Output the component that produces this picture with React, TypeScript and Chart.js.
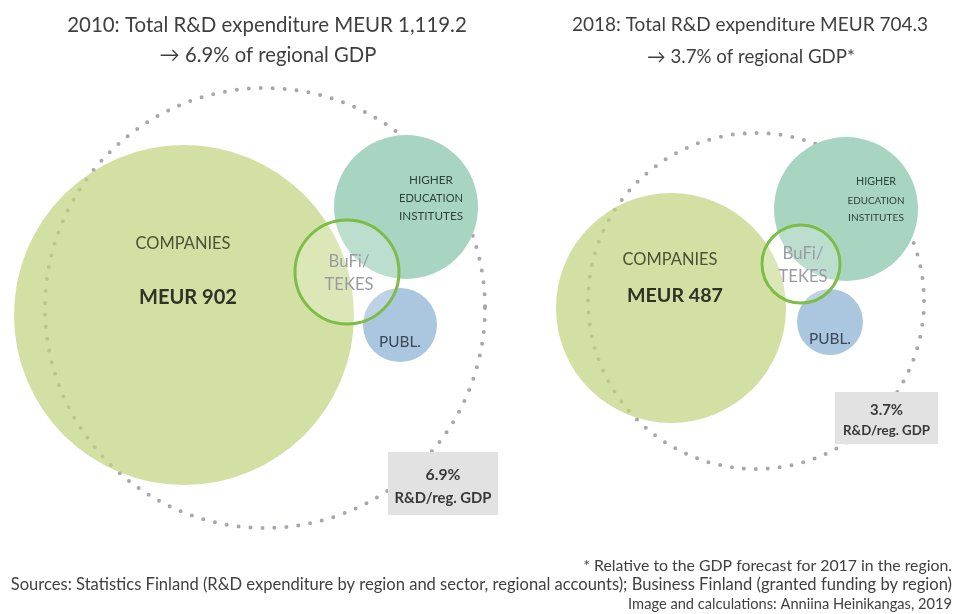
import React, { useEffect, useRef } from 'react';
import { Chart, registerables } from 'chart.js';

Chart.register(...registerables);

const W = 955;
const H = 614;
const FONT = "Lato, 'Open Sans', 'DejaVu Sans', sans-serif";

// ---- data ----
const years = ['2010', '2018'];
const totalRD = ['1,119.2', '704.3']; // MEUR
const gdpShare = ['6.9%', '3.7%'];
const companiesRD = ['902', '487']; // MEUR
const sectorNames = ['COMPANIES', 'HIGHER EDUCATION INSTITUTES', 'PUBL.', 'BuFi/TEKES', 'Total'];

// bubble centres and radii (hidden linear axes, one unit = one pixel)
const totalX = [265, 756];
const totalY = [308, 301];
const totalR = [220, 168];
const companiesX = [184, 671];
const companiesY = [315, 308];
const companiesR = [170, 115];
const higherEdX = [406, 846];
const higherEdY = [207, 209];
const higherEdR = [72, 72];
const publX = [400, 830];
const publY = [325, 322];
const publR = [37, 33];
const bufiX = [347, 801];
const bufiY = [272, 264];
const bufiR = [52, 39];

const pts = (xs: number[], ys: number[], rs: number[]) =>
  xs.map((x, i) => ({ x, y: ys[i], r: rs[i] }));

function drawFit(
  ctx: CanvasRenderingContext2D,
  text: string,
  x: number,
  y: number,
  width: number,
  weight: string,
  color: string,
  align: CanvasTextAlign = 'center'
) {
  ctx.font = `${weight} 20px ${FONT}`;
  const m = ctx.measureText(text).width;
  const size = (20 * width) / m;
  ctx.font = `${weight} ${size.toFixed(2)}px ${FONT}`;
  ctx.fillStyle = color;
  ctx.textAlign = align;
  ctx.textBaseline = 'middle';
  ctx.fillText(text, x, y);
}

const dottedPlugin = {
  id: 'dottedRing',
  beforeDatasetDraw(chart: any, args: any) {
    const ds = chart.data.datasets[args.index];
    if (ds.dotted) {
      const ctx = chart.ctx;
      ctx.save();
      ctx.setLineDash([0, 12]);
      ctx.lineCap = 'round';
    }
  },
  afterDatasetDraw(chart: any, args: any) {
    const ds = chart.data.datasets[args.index];
    if (ds.dotted) chart.ctx.restore();
  },
};

const textPlugin = {
  id: 'texts',
  afterDatasetsDraw(chart: any) {
    const ctx: CanvasRenderingContext2D = chart.ctx;
    const sx = chart.scales.x;
    const sy = chart.scales.y;
    const px = (v: number) => sx.getPixelForValue(v);
    const py = (v: number) => sy.getPixelForValue(v);
    ctx.save();

    // titles
    drawFit(ctx, `${years[0]}: Total R&D expenditure MEUR ${totalRD[0]}`, 267, 25, 400, '400', '#3f3f3f');
    drawFit(ctx, `\u2192 ${gdpShare[0]} of regional GDP`, 268, 55, 217, '400', '#3f3f3f');
    drawFit(ctx, `${years[1]}: Total R&D expenditure MEUR ${totalRD[1]}`, 750, 25, 356, '400', '#3f3f3f');
    drawFit(ctx, `\u2192 ${gdpShare[1]} of regional GDP*`, 751, 57, 208, '400', '#3f3f3f');

    const compLabelW = [95, 95];
    const meurW = [98, 96];
    const heiW = [[44, 64, 64], [40, 57, 56]];
    for (let i = 0; i < 2; i++) {
      // companies
      const cx = px(companiesX[i]);
      const cy = py(companiesY[i]);
      const cr = companiesR[i];
      drawFit(ctx, sectorNames[0], cx - 1, cy - 0.42 * cr, compLabelW[i], '400', '#4a5336');
      drawFit(ctx, `MEUR ${companiesRD[i]}`, cx + 4, cy - 0.105 * cr, meurW[i], '700', '#2e3228');

      // higher education
      const hx = px(higherEdX[i]) + (i === 0 ? 25 : 30);
      const hy = py(higherEdY[i]);
      const heiLines = ['HIGHER', 'EDUCATION', 'INSTITUTES'];
      const heiDy = [-27, -8.5, 9];
      heiLines.forEach((t, k) => drawFit(ctx, t, hx, hy + heiDy[k], heiW[i][k], '400', '#2f4237'));

      // public
      drawFit(ctx, sectorNames[2], px(publX[i]), py(publY[i]) + 17, 42, '400', '#3c4858');

      // BuFi / TEKES
      const bx = px(bufiX[i]);
      const by = py(bufiY[i]);
      drawFit(ctx, 'BuFi/', bx + 2, by - 10.5, 41, '400', '#9c9ba4');
      drawFit(ctx, 'TEKES', bx + 2, by + 12.5, 49, '400', '#9c9ba4');
    }

    // GDP share boxes
    const boxes = [
      { x: 388, y: 452, w: 110, h: 63, t1: 475, t2: 498, w1: 35, w2: 97 },
      { x: 835, y: 392, w: 103, h: 52, t1: 410, t2: 431, w1: 33, w2: 87 },
    ];
    boxes.forEach((b, i) => {
      ctx.fillStyle = '#e2e2e2';
      ctx.fillRect(b.x, b.y, b.w, b.h);
      const mx = b.x + b.w / 2;
      drawFit(ctx, gdpShare[i], mx, b.t1, b.w1, '700', '#383838');
      drawFit(ctx, 'R&D/reg. GDP', mx, b.t2, b.w2, '700', '#383838');
    });

    // footnotes
    drawFit(ctx, '* Relative to the GDP forecast for 2017 in the region.', 952, 566, 369, '400', '#404040', 'right');
    drawFit(
      ctx,
      'Sources: Statistics Finland (R&D expenditure by region and sector, regional accounts); Business Finland (granted funding by region)',
      952,
      585,
      942,
      '400',
      '#404040',
      'right'
    );
    drawFit(ctx, 'Image and calculations: Anniina Heinikangas, 2019', 952, 604, 324, '400', '#404040', 'right');

    ctx.restore();
  },
};

export default function App() {
  const ref = useRef<HTMLCanvasElement>(null);

  useEffect(() => {
    if (!ref.current) return;
    const chart = new Chart(ref.current, {
      type: 'bubble',
      data: {
        datasets: [
          {
            label: sectorNames[3],
            data: pts(bufiX, bufiY, bufiR),
            backgroundColor: 'rgba(255,255,255,0.22)',
            borderColor: '#7dbd45',
            borderWidth: 3,
            clip: false,
          } as any,
          {
            label: sectorNames[2],
            data: pts(publX, publY, publR),
            backgroundColor: '#abc6df',
            borderWidth: 0,
            clip: false,
          },
          {
            label: sectorNames[1],
            data: pts(higherEdX, higherEdY, higherEdR),
            backgroundColor: '#a8d5c1',
            borderWidth: 0,
            clip: false,
          },
          {
            label: sectorNames[0],
            data: pts(companiesX, companiesY, companiesR),
            backgroundColor: 'rgba(193,212,128,0.72)',
            borderWidth: 0,
            clip: false,
          },
          {
            label: sectorNames[4],
            data: pts(totalX, totalY, totalR),
            backgroundColor: 'rgba(0,0,0,0)',
            borderColor: '#a6a6ae',
            borderWidth: 4,
            dotted: true,
            clip: false,
          } as any,
        ],
      },
      options: {
        responsive: false,
        animation: false,
        events: [],
        layout: { padding: 0, autoPadding: false },
        scales: {
          x: { type: 'linear', min: 0, max: W, display: false },
          y: { type: 'linear', min: 0, max: H, reverse: true, display: false },
        },
        plugins: {
          legend: { display: false },
          tooltip: { enabled: false },
        },
      },
      plugins: [dottedPlugin, textPlugin],
    });
    return () => chart.destroy();
  }, []);

  return (
    <div style={{ position: 'absolute', left: 0, top: 0, width: W, height: H, background: '#ffffff' }}>
      <canvas ref={ref} width={W} height={H} style={{ display: 'block', width: W, height: H }} />
    </div>
  );
}
